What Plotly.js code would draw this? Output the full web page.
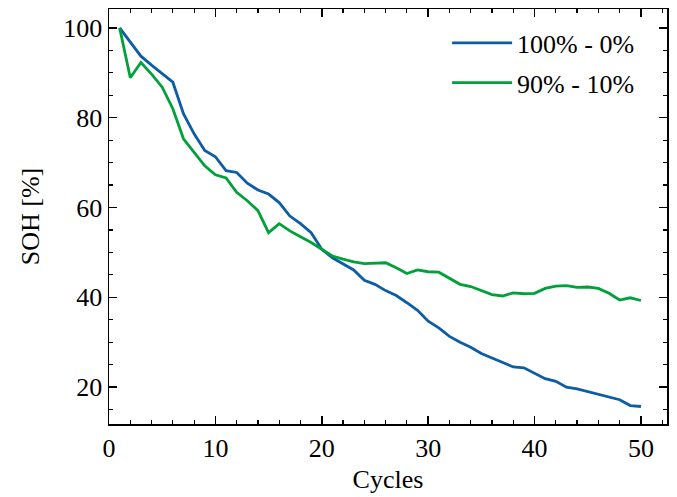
<!DOCTYPE html>
<html>
<head>
<meta charset="utf-8">
<script src="https://cdn.plot.ly/plotly-3.0.1.min.js"></script>
<style>html,body{margin:0;padding:0;background:#fff;}#chart{width:677px;height:497px;}</style>
</head>
<body>
<div id="chart"></div>
<script>
const cycles = [1,2,3,4,5,6,7,8,9,10,11,12,13,14,15,16,17,18,19,20,21,22,23,24,25,26,27,28,29,30,31,32,33,34,35,36,37,38,39,40,41,42,43,44,45,46,47,48,49,50];
const soh_100_0 = [100,96.9,93.7,91.7,89.7,87.9,80.9,76.4,72.7,71.3,68.2,67.8,65.4,63.9,63.0,61.1,58.1,56.4,54.4,50.7,48.8,47.5,46.1,43.8,42.9,41.5,40.4,38.8,37.1,34.7,33.2,31.3,30.0,28.9,27.5,26.5,25.5,24.5,24.3,23.1,21.9,21.3,20.0,19.6,19.0,18.5,17.9,17.2,15.9,15.7];
const soh_90_10 = [100,88.9,92.3,89.7,86.8,82.0,75.3,72.3,69.3,67.3,66.6,63.4,61.5,59.3,54.4,56.4,54.8,53.5,52.2,50.7,49.2,48.5,47.9,47.5,47.6,47.7,46.6,45.3,46.1,45.7,45.6,44.2,42.9,42.4,41.5,40.6,40.3,41.0,40.8,40.9,42.0,42.5,42.6,42.2,42.3,42.0,40.9,39.4,39.9,39.3];
const seriesNames = ["100% - 0%", "90% - 10%"];
const xTicks = [0,10,20,30,40,50];
const yTicks = [20,40,60,80,100];

const font = "'Liberation Serif', 'DejaVu Serif', serif";
const fs = 26;
const traces = [
  {x: cycles, y: soh_100_0, name: seriesNames[0], legendgroup: "a", mode: "lines", line: {color: "#0C5DA5", width: 2.8}},
  {x: cycles, y: soh_90_10, name: seriesNames[1], legendgroup: "b", mode: "lines", line: {color: "#00A03A", width: 2.8}}
];
const axisCommon = {
  showline: true, linecolor: "#000", linewidth: 1.5, mirror: "ticks",
  ticks: "inside", ticklen: 8, tickwidth: 1.5, tickcolor: "#000",
  showgrid: false, zeroline: false,
  tickfont: {family: font, size: fs, color: "#000"}
};
const layout = {
  width: 677, height: 497,
  margin: {l: 109, r: 10, t: 9, b: 73},
  paper_bgcolor: "#fff", plot_bgcolor: "#fff",
  showlegend: true,
  legend: {x: 0.95, y: 0.975, xanchor: "right", yanchor: "top", bgcolor: "rgba(0,0,0,0)",
           font: {family: font, size: fs, color: "#000"}, itemwidth: 60, tracegroupgap: 3},
  xaxis: Object.assign({}, axisCommon, {
    range: [0, 52.45], tickvals: xTicks, ticktext: xTicks.map(String),
    minor: {dtick: 2, tick0: 0, ticks: "inside", ticklen: 4, tickwidth: 1.2, tickcolor: "#000"},
    title: {text: "Cycles", font: {family: font, size: fs, color: "#000"}, standoff: 8}
  }),
  yaxis: Object.assign({}, axisCommon, {
    range: [11.8, 104.2], tickvals: yTicks, ticktext: yTicks.map(String),
    minor: {dtick: 5, tick0: 0, ticks: "inside", ticklen: 4, tickwidth: 1.2, tickcolor: "#000"},
    title: {text: "SOH [%]", font: {family: font, size: fs, color: "#000"}, standoff: 16}
  })
};
Plotly.newPlot("chart", traces, layout, {displayModeBar: false, staticPlot: true});
</script>
</body>
</html>
